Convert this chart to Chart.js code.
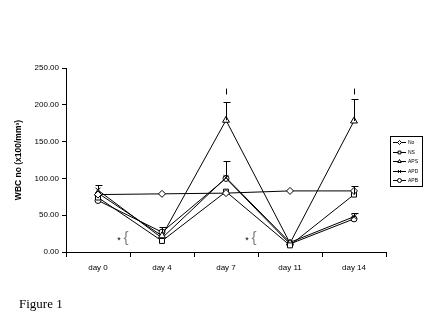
<!DOCTYPE html>
<html>
<head>
<meta charset="utf-8">
<script src="https://cdn.jsdelivr.net/npm/chart.js@4.4.1/dist/chart.umd.min.js"></script>
<style>
  body { margin: 0; background: #fff; }
  #wrap { position: relative; width: 439px; height: 329px; }
  #caption { position: absolute; left: 19px; top: 296px; font-family: "Liberation Serif", serif; font-size: 13px; color: #000; }
</style>
</head>
<body>
<div id="wrap">
  <canvas id="wbc-chart" width="439" height="329"></canvas>
  <div id="caption">Figure 1</div>
</div>
<script>
const days = ['day 0', 'day 4', 'day 7', 'day 11', 'day 14'];
const yTicks = [0, 50, 100, 150, 200, 250];

const noVals  = [78, 79, 80, 83, 83];
const nsVals  = [74, 15, 82, 9, 78];
const apsVals = [80, 22, 179, 12, 178];
const apdVals = [84, 19, 101, 13, 48];
const apbVals = [70, 27, 100, 11, 45];

const noErr  = [0, 0, 0, 0, 0];
const nsErr  = [0, 0, 0, 0, 12];
const apsErr = [0, 0, 25, 0, 30];
const apdErr = [7, 0, 23, 0, 5];
const apbErr = [0, 7, 0, 0, 0];

// significance bars above day 7 and day 14, and the "*{" notes
const sigDays = ['day 7', 'day 14'];
const sigLow = 214, sigHigh = 222;
const starSpots = [0.5, 2.5];
const starLevel = 19;

function series(label, data, err, style, radius, fill) {
    return {
        label: label, data: data, err: err,
        borderColor: '#000', borderWidth: 1,
        pointStyle: style, pointRadius: radius,
        pointBackgroundColor: fill, pointBorderColor: '#000', pointBorderWidth: 1,
        tension: 0, fill: false
    };
}

const errorBars = {
    id: 'errorBars',
    afterDatasetsDraw(chart) {
        const ctx = chart.ctx;
        const y = chart.scales.y;
        ctx.save();
        ctx.strokeStyle = '#000';
        ctx.lineWidth = 1;
        chart.data.datasets.forEach((ds, i) => {
            const meta = chart.getDatasetMeta(i);
            ds.err.forEach((e, j) => {
                if (!e) return;
                const px = Math.round(meta.data[j].x) + 0.5;
                const y1 = y.getPixelForValue(ds.data[j]);
                const y2 = Math.round(y.getPixelForValue(ds.data[j] + e)) + 0.5;
                ctx.beginPath();
                ctx.moveTo(px, y1);
                ctx.lineTo(px, y2);
                ctx.moveTo(px - 3, y2);
                ctx.lineTo(px + 4, y2);
                ctx.stroke();
            });
        });
        ctx.restore();
    }
};

const notes = {
    id: 'notes',
    afterDraw(chart) {
        const ctx = chart.ctx;
        const x = chart.scales.x, y = chart.scales.y;
        const area = chart.chartArea;
        ctx.save();
        ctx.strokeStyle = '#000';
        ctx.lineWidth = 1;
        sigDays.forEach(d => {
            const px = Math.round(x.getPixelForValue(days.indexOf(d))) + 0.5;
            ctx.beginPath();
            ctx.moveTo(px, y.getPixelForValue(sigLow));
            ctx.lineTo(px, y.getPixelForValue(sigHigh));
            ctx.stroke();
        });
        starSpots.forEach(s => {
            const px = x.getPixelForValue(s);
            const py = y.getPixelForValue(starLevel);
            ctx.fillStyle = '#000';
            ctx.font = '9px "Liberation Sans", Arial';
            ctx.textAlign = 'center';
            ctx.textBaseline = 'middle';
            ctx.fillText('*', px - 11, py + 2);
            ctx.fillStyle = '#808080';
            ctx.font = '15px "Liberation Sans", Arial';
            ctx.fillText('{', px - 4, py);
        });

        // legend box
        const lx = area.right + 4, ly = area.top + 68;
        const lw = 32, rowH = 9.6;
        ctx.strokeStyle = '#000';
        ctx.strokeRect(lx + 0.5, ly + 0.5, lw, rowH * 5 + 2);
        ctx.font = '5px "Liberation Sans", Arial';
        ctx.textAlign = 'left';
        ctx.textBaseline = 'middle';
        chart.data.datasets.forEach((ds, i) => {
            const cy = Math.round(ly + 6 + i * rowH) + 0.5;
            ctx.beginPath();
            ctx.moveTo(lx + 3, cy);
            ctx.lineTo(lx + 16, cy);
            ctx.stroke();
            ctx.fillStyle = ds.pointBackgroundColor;
            Chart.helpers.drawPoint(ctx, {
                pointStyle: ds.pointStyle, radius: 2, borderWidth: 1
            }, lx + 9.5, cy);
            ctx.fillStyle = '#000';
            ctx.fillText(ds.label, lx + 18, cy);
        });
        ctx.restore();
    }
};

new Chart(document.getElementById('wbc-chart').getContext('2d'), {
    type: 'line',
    data: {
        labels: days,
        datasets: [
            series('No', noVals, noErr, 'rectRot', 3.5, '#fff'),
            series('NS', nsVals, nsErr, 'rect', 3.5, '#fff'),
            series('APS', apsVals, apsErr, 'triangle', 4, '#fff'),
            series('APD', apdVals, apdErr, 'crossRot', 3.5, '#000'),
            series('APB', apbVals, apbErr, 'circle', 3, '#fff')
        ]
    },
    options: {
        responsive: false,
        animation: false,
        layout: { padding: { left: 0, right: 53, top: 68, bottom: 0 } },
        plugins: { legend: { display: false }, tooltip: { enabled: false } },
        scales: {
            x: {
                offset: true,
                grid: { offset: true, drawOnChartArea: false, color: '#000', tickLength: 5 },
                border: { color: '#000' },
                ticks: { color: '#000', font: { family: '"Liberation Sans", Arial', size: 8 }, padding: 6 },
                afterFit(scale) { scale.height = 77; }
            },
            y: {
                min: 0, max: 250,
                afterBuildTicks(scale) { scale.ticks = yTicks.map(v => ({ value: v })); },
                grid: { drawOnChartArea: false, color: '#000', tickLength: 4 },
                border: { color: '#000' },
                ticks: {
                    color: '#000', padding: 3,
                    font: { family: '"Liberation Sans", Arial', size: 8 },
                    callback: v => v.toFixed(2)
                },
                title: {
                    display: true, text: 'WBC no (x100/mm³)', color: '#000',
                    font: { family: '"Liberation Sans", Arial', size: 8.5, weight: 'bold' },
                    padding: { top: 14, bottom: 0 }
                },
                afterFit(scale) { scale.width = 66; }
            }
        }
    },
    plugins: [errorBars, notes]
});
</script>
</body>
</html>
